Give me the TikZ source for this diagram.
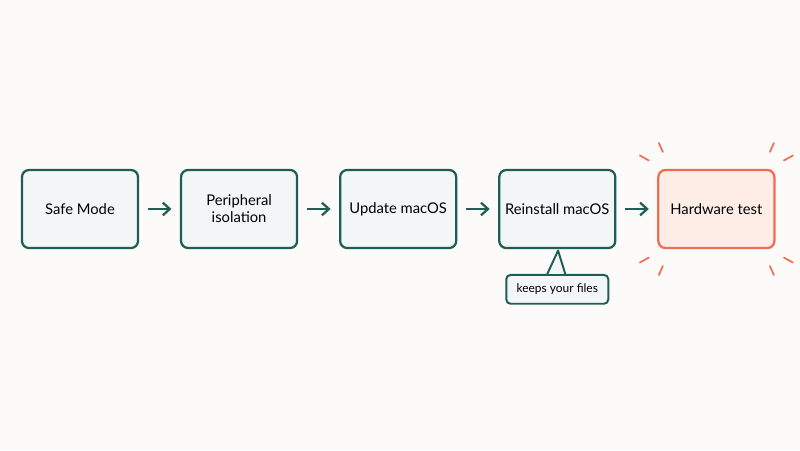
\documentclass[tikz,border=0pt]{standalone}
\usepackage{fontspec}
\setmainfont{Lato}
\usetikzlibrary{positioning,arrows.meta}
\definecolor{bgc}{HTML}{FDFAFA}
\definecolor{stepline}{HTML}{1F5E55}
\definecolor{stepfill}{HTML}{F3F6F6}
\definecolor{hot}{HTML}{F26B4F}
\definecolor{hotfill}{HTML}{FDEDE6}
\begin{document}
\begin{tikzpicture}[
        x=0.025cm, y=-0.025cm,
        font=\fontsize{10.5}{12}\selectfont,
        node distance=1.02cm,
        stage/.style={draw=stepline, line width=1.6pt, fill=stepfill, rounded corners=5pt,
            minimum width=2.9cm, minimum height=1.95cm, align=center},
        hotstage/.style={stage, draw=hot, fill=hotfill},
        arrow/.style={-{Straight Barb[length=5pt,width=9pt]}, line width=1.6pt, draw=stepline},
        ray/.style={draw=hot, line width=1.2pt, line cap=round},
    ]
    \fill[bgc] (0,0) rectangle (800,450);

    % steps
    \node[stage] (safe) at (80,209) {Safe Mode};
    \node[stage, right=of safe] (periph) {Peripheral\\isolation};
    \node[stage, right=of periph] (update) {Update macOS};
    \node[stage, right=of update] (reinst) {Reinstall macOS};
    \node[hotstage, right=of reinst] (hw) {Hardware test};

    \foreach \a/\b in {safe/periph,periph/update,update/reinst,reinst/hw}
        \draw[arrow] ([xshift=6pt]\a.east) -- ([xshift=-6pt]\b.west);

    % callout
    \node[draw=stepline, line width=1.4pt, fill=stepfill, rounded corners=3pt,
        minimum width=2.55cm, minimum height=0.72cm, font=\fontsize{8.5}{10}\selectfont,
        below=0.62cm of reinst] (note) {keeps your files};
    \coordinate (tip) at ([xshift=0.02cm]reinst.south);
    \draw[stepline, line width=1.4pt, fill=stepfill, line join=round]
        ([xshift=-0.25cm]note.north) -- ([yshift=-1pt]tip) -- ([xshift=0.2cm]note.north);

    % glow rays
    \draw[ray] ([xshift=-6pt,yshift=6pt]hw.north west) -- ++(-9,-5);
    \draw[ray] ([xshift=4pt,yshift=12pt]hw.north west) -- ++(-4,-9);
    \draw[ray] ([xshift=6pt,yshift=6pt]hw.north east) -- ++(9,-5);
    \draw[ray] ([xshift=-4pt,yshift=12pt]hw.north east) -- ++(4,-9);
    \draw[ray] ([xshift=-6pt,yshift=-6pt]hw.south west) -- ++(-9,5);
    \draw[ray] ([xshift=4pt,yshift=-12pt]hw.south west) -- ++(-4,9);
    \draw[ray] ([xshift=6pt,yshift=-6pt]hw.south east) -- ++(9,5);
    \draw[ray] ([xshift=-4pt,yshift=-12pt]hw.south east) -- ++(4,9);
\end{tikzpicture}
\end{document}
